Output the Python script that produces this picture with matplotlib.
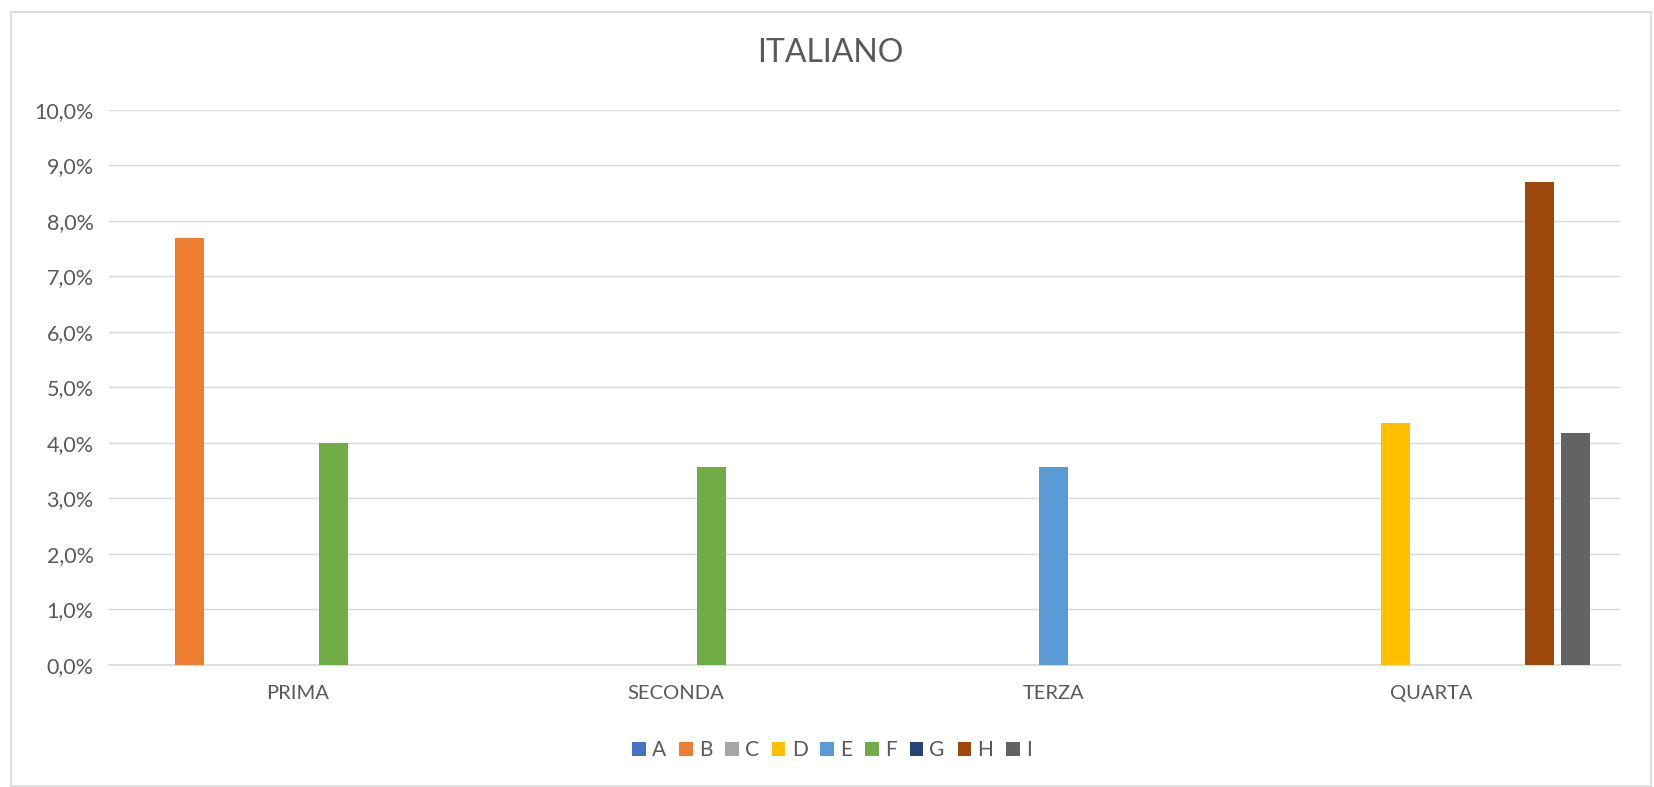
import matplotlib
matplotlib.use("Agg")
import matplotlib.pyplot as plt
from matplotlib.patches import Rectangle
from matplotlib.ticker import FuncFormatter
import numpy as np

plt.rcParams['font.family'] = ['Lato', 'DejaVu Sans']

categories = ["PRIMA", "SECONDA", "TERZA", "QUARTA"]
series_names = ["A", "B", "C", "D", "E", "F", "G", "H", "I"]
A = [0.0, 0.0, 0.0, 0.0]
B = [7.69, 0.0, 0.0, 0.0]
C = [0.0, 0.0, 0.0, 0.0]
D = [0.0, 0.0, 0.0, 4.35]
E = [0.0, 0.0, 3.57, 0.0]
F = [4.0, 3.57, 0.0, 0.0]
G = [0.0, 0.0, 0.0, 0.0]
H = [0.0, 0.0, 0.0, 8.70]
I = [0.0, 0.0, 0.0, 4.17]
series_values = [A, B, C, D, E, F, G, H, I]
colors = ["#4472C4", "#ED7D31", "#A5A5A5", "#FFC000", "#5B9BD5",
          "#70AD47", "#264478", "#9E480E", "#636363"]
yticks = [0, 1, 2, 3, 4, 5, 6, 7, 8, 9, 10]

W, Hh = 1654, 787
fig = plt.figure(figsize=(W / 100, Hh / 100), dpi=100)
fig.patch.set_facecolor("white")

left, right, top, bottom = 109, 1620, 109.7, 664.6
ax = fig.add_axes([left / W, 1 - bottom / Hh, (right - left) / W, (bottom - top) / Hh])

x = np.arange(len(categories))
slot = 0.0953
bw = 0.0768
n = len(series_names)
handles = []
for i, (name, vals, col) in enumerate(zip(series_names, series_values, colors)):
    b = ax.bar(x + (i - (n - 1) / 2) * slot, vals, width=bw, color=col, label=name, zorder=3)
    handles.append(b)

ax.set_xlim(-0.5, len(categories) - 0.5)
ax.set_ylim(0, 10)
ax.set_yticks(yticks)
ax.yaxis.set_major_formatter(FuncFormatter(lambda v, p: f"{v:.1f}".replace(".", ",") + "%"))
ax.set_xticks(x)
ax.set_xticklabels(categories)
ax.grid(axis="y", color="#D9D9D9", linewidth=1.0, zorder=0)
ax.set_axisbelow(True)
for s in ["top", "right", "left"]:
    ax.spines[s].set_visible(False)
ax.spines["bottom"].set_color("#D9D9D9")
ax.spines["bottom"].set_linewidth(1.2)
ax.tick_params(axis="both", length=0, colors="#595959")
ax.tick_params(axis="x", pad=15, labelsize=14.5)
ax.tick_params(axis="y", pad=11, labelsize=15.5)

fig.text(830 / W, 1 - 52.7 / Hh, "ITALIANO", ha="center", va="center",
         fontsize=23, color="#595959")

leg = fig.legend(handles=handles, labels=series_names, loc="center",
                 bbox_to_anchor=(832 / W, 1 - 750 / Hh), ncol=n, frameon=False,
                 fontsize=15, handlelength=0.65, handleheight=0.65,
                 handletextpad=0.3, columnspacing=0.62, labelcolor="#595959")

fig.patches.append(Rectangle((10.5 / W, 1 - 786 / Hh), (1651 - 10.5) / W, (786 - 11.5) / Hh,
                             transform=fig.transFigure, fill=False,
                             edgecolor="#D9D9D9", linewidth=1.2))

fig.savefig("out.png", dpi=100)
